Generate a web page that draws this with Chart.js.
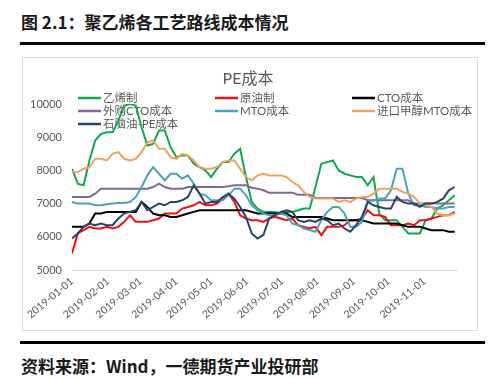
<!DOCTYPE html>
<html>
<head>
<meta charset="utf-8">
<script src="https://cdn.jsdelivr.net/npm/chart.js@4/dist/chart.umd.min.js"></script>
<style>
html,body{margin:0;padding:0;background:#fff;}
body{width:488px;height:378px;position:relative;overflow:hidden;}
.hd{position:absolute;font-family:"Noto Sans CJK SC";font-weight:600;font-size:17px;line-height:17px;color:#1a1a1a;white-space:nowrap;}
.rule{position:absolute;left:20px;width:465px;height:3px;background:#000;}
#box{position:absolute;left:22px;top:57px;width:456px;height:274px;border:1px solid #d9d9d9;box-sizing:border-box;background:#fff;}
canvas{display:block;}
</style>
</head>
<body>
<div class="hd" style="left:21px;top:13px;">图 2.1：聚乙烯各工艺路线成本情况</div>
<div class="rule" style="top:42px;"></div>
<div id="box"><canvas id="c" width="454" height="272"></canvas></div>
<div class="rule" style="top:341px;"></div>
<div class="hd" style="left:21px;top:357px;">资料来源：Wind，一德期货产业投研部</div>
<script>
// ---- data (day offset from 2019-01-01, sampled every 5 days) ----
const chartTitle = "PE成本";
const days = [0,5,10,15,20,25,30,35,40,45,50,55,60,65,70,75,80,85,90,95,100,105,110,115,120,125,130,135,140,145,150,155,160,165,170,175,180,185,190,195,200,205,210,215,220,225,230,235,240,245,250,255,260,265,270,275,280,285,290,295,300,305,310,315,320,325,330];
const tickDays = [0,31,59,90,120,151,181,212,243,273,304];
const tickLabels = ["2019-01-01","2019-02-01","2019-03-01","2019-04-01","2019-05-01","2019-06-01","2019-07-01","2019-08-01","2019-09-01","2019-10-01","2019-11-01"];
const yTicks = [5000,6000,7000,8000,9000,10000];
const seriesNames = ["乙烯制","原油制","CTO成本","外购CTO成本","MTO成本","进口甲醇MTO成本","石脑油-PE成本"];

const ethylene = [8050,7600,7550,8300,8900,9100,9150,9150,9500,9950,
  10000,9950,9300,8750,8800,9200,9200,8700,8400,8450,
  8450,8200,8100,8000,7800,8050,8250,8250,8500,8650,
  7800,7050,6850,6750,6750,6750,6700,6750,6750,6800,
  6850,6850,7500,8200,8250,8300,8000,7900,7850,7800,
  7800,7550,7800,6700,6500,6500,6500,6300,6100,6100,
  6100,6500,6550,6850,6950,7100,7250];
const crudeOil = [5500,6100,6200,6300,6250,6250,6300,6250,6300,6450,
  6650,6450,6450,6450,6500,6550,6700,6700,6700,6850,
  6900,6950,7050,6950,6950,7000,7150,7300,7050,6650,
  6550,6500,6500,6450,6550,6600,6550,6500,6550,6350,
  6300,6250,6300,6050,6300,6300,6300,6350,6500,6500,
  6550,6800,6650,6650,6600,6350,6350,6350,6400,6350,
  6500,6500,6550,6600,6650,6650,6750];
const cto = [6300,6300,6300,6400,6700,6700,6750,6750,6750,6750,
  6750,6750,7050,6900,6700,6650,6650,6600,6600,6650,
  6700,6750,6800,6800,6800,6800,6800,6800,6800,6800,
  6800,6750,6700,6700,6700,6700,6700,6700,6600,6600,
  6600,6600,6600,6600,6550,6500,6500,6500,6500,6500,
  6500,6450,6400,6400,6400,6400,6400,6350,6300,6300,
  6300,6250,6200,6200,6200,6150,6150];
const ctoPurchased = [7200,7200,7200,7200,7300,7450,7450,7450,7450,7450,
  7450,7450,7450,7450,7500,7600,7500,7450,7450,7450,
  7500,7500,7500,7500,7500,7500,7500,7520,7550,7550,
  7550,7480,7450,7400,7330,7330,7330,7330,7330,7270,
  7270,7270,7170,7170,7170,7170,7170,7170,7170,7170,
  7170,7100,7100,7100,7100,7100,7100,7100,7100,7000,
  7000,7000,7000,7000,7000,7000,7000];
const mto = [7050,7000,7000,7000,6950,6950,6980,7000,7020,7020,
  7050,7200,7500,7850,8100,7900,7700,7900,7900,7750,
  7850,7600,7300,7250,7100,7100,7100,7250,7450,7450,
  7250,6950,6800,6700,6650,6650,6700,6650,6400,6350,
  6250,6200,6150,6500,6750,6900,6900,6700,6300,6300,
  6450,7050,7100,7150,7150,7400,8050,8050,7300,6950,
  6950,6900,6900,6850,6850,6900,6900];
const mtoImported = [7950,7950,8050,8100,8350,8350,8300,8500,8550,8350,
  8300,8350,8550,8850,8900,8650,8650,8400,8350,8500,
  8450,8300,8100,8050,8050,8100,8250,8300,8300,8050,
  7800,7700,7850,7900,7850,7850,7850,7800,7650,7550,
  7350,7200,7150,7150,7150,7150,7050,7100,7050,7150,
  7200,7200,7300,7450,7450,7450,7450,7350,7300,7200,
  7000,6950,6900,6700,6650,6650,6700];
const naphtha = [5950,6100,6300,6400,6350,6400,6350,6350,6550,6700,
  6750,6800,7050,6800,6900,7000,6950,7050,7050,7100,
  7200,7550,7300,7000,7050,7050,7200,7300,7150,6900,
  6600,6100,5950,6050,6550,6650,6750,6800,6750,6500,
  6450,6500,6450,6550,6500,6350,6400,6250,6150,6350,
  6600,7050,6950,6900,6850,6850,7200,7050,7000,7000,
  6900,7000,7000,7050,7150,7400,7500];

const seriesValues = [ethylene, crudeOil, cto, ctoPurchased, mto, mtoImported, naphtha];
const seriesColors = ["#12a74f","#f01010","#000000","#7f6a9e","#4ba3b6","#eda263","#2c4268"];

const pts = arr => arr.map((v,i)=>({x:days[i], y:v}));

const FONT = '"Lato","Noto Sans CJK SC",sans-serif';

const overlay = {
  id:'overlay',
  beforeDatasetsDraw(chart){
    const ctx = chart.ctx;
    ctx.save();
    ctx.fillStyle = '#595959';
    ctx.textBaseline = 'middle';
    ctx.textAlign = 'center';
    ctx.font = '16px "Lato","Noto Sans CJK SC"';
    ctx.fillText(chartTitle, 225, 21);
    ctx.font = '11.5px "Lato","Noto Sans CJK SC"';
    ctx.textAlign = 'left';
    const colX = [55, 192, 329];
    chart.data.datasets.forEach((ds, i) => {
      const col = i % 3, row = Math.floor(i / 3);
      const x = colX[col], y = 40 + row * 13;
      ctx.strokeStyle = ds.borderColor;
      ctx.lineWidth = 2.5;
      ctx.beginPath(); ctx.moveTo(x, y); ctx.lineTo(x + 23, y); ctx.stroke();
      ctx.fillStyle = '#595959';
      ctx.fillText(ds.label, x + 25, y + 0.5);
    });
    ctx.restore();
  }
};

new Chart(document.getElementById('c'), {
  type: 'line',
  data: {
    datasets: seriesNames.map((name, i) => ({
      label: name,
      data: pts(seriesValues[i]),
      borderColor: seriesColors[i],
      backgroundColor: seriesColors[i],
      borderWidth: 2,
      pointRadius: 0,
      tension: 0,
      fill: false,
      order: seriesNames.length - i
    }))
  },
  options: {
    responsive: false,
    animation: false,
    devicePixelRatio: 1,
    layout: { padding: { top: 46, right: 20, left: 0, bottom: 0 } },
    plugins: { legend: { display: false }, title: { display: false }, tooltip: { enabled: false } },
    scales: {
      x: {
        type: 'linear',
        min: 0, max: 332,
        afterBuildTicks: s => { s.ticks = tickDays.map(v => ({ value: v })); },
        afterFit: s => { s.height = 60; },
        grid: { display: false, drawTicks: false },
        border: { display: true, color: '#d9d9d9', width: 1 },
        ticks: {
          autoSkip: false, minRotation: 40, maxRotation: 40, padding: 5,
          color: '#595959', font: { family: FONT, size: 10.5 },
          callback: v => tickLabels[tickDays.indexOf(v)] || ''
        }
      },
      y: {
        min: 5000, max: 10000,
        afterBuildTicks: s => { s.ticks = yTicks.map(v => ({ value: v })); },
        afterFit: s => { s.width = 49; },
        grid: { display: false, drawTicks: false },
        border: { display: false },
        ticks: { padding: 10, color: '#595959', font: { family: FONT, size: 11 },
          callback: v => String(v) }
      }
    }
  },
  plugins: [overlay]
});
</script>
</body>
</html>
